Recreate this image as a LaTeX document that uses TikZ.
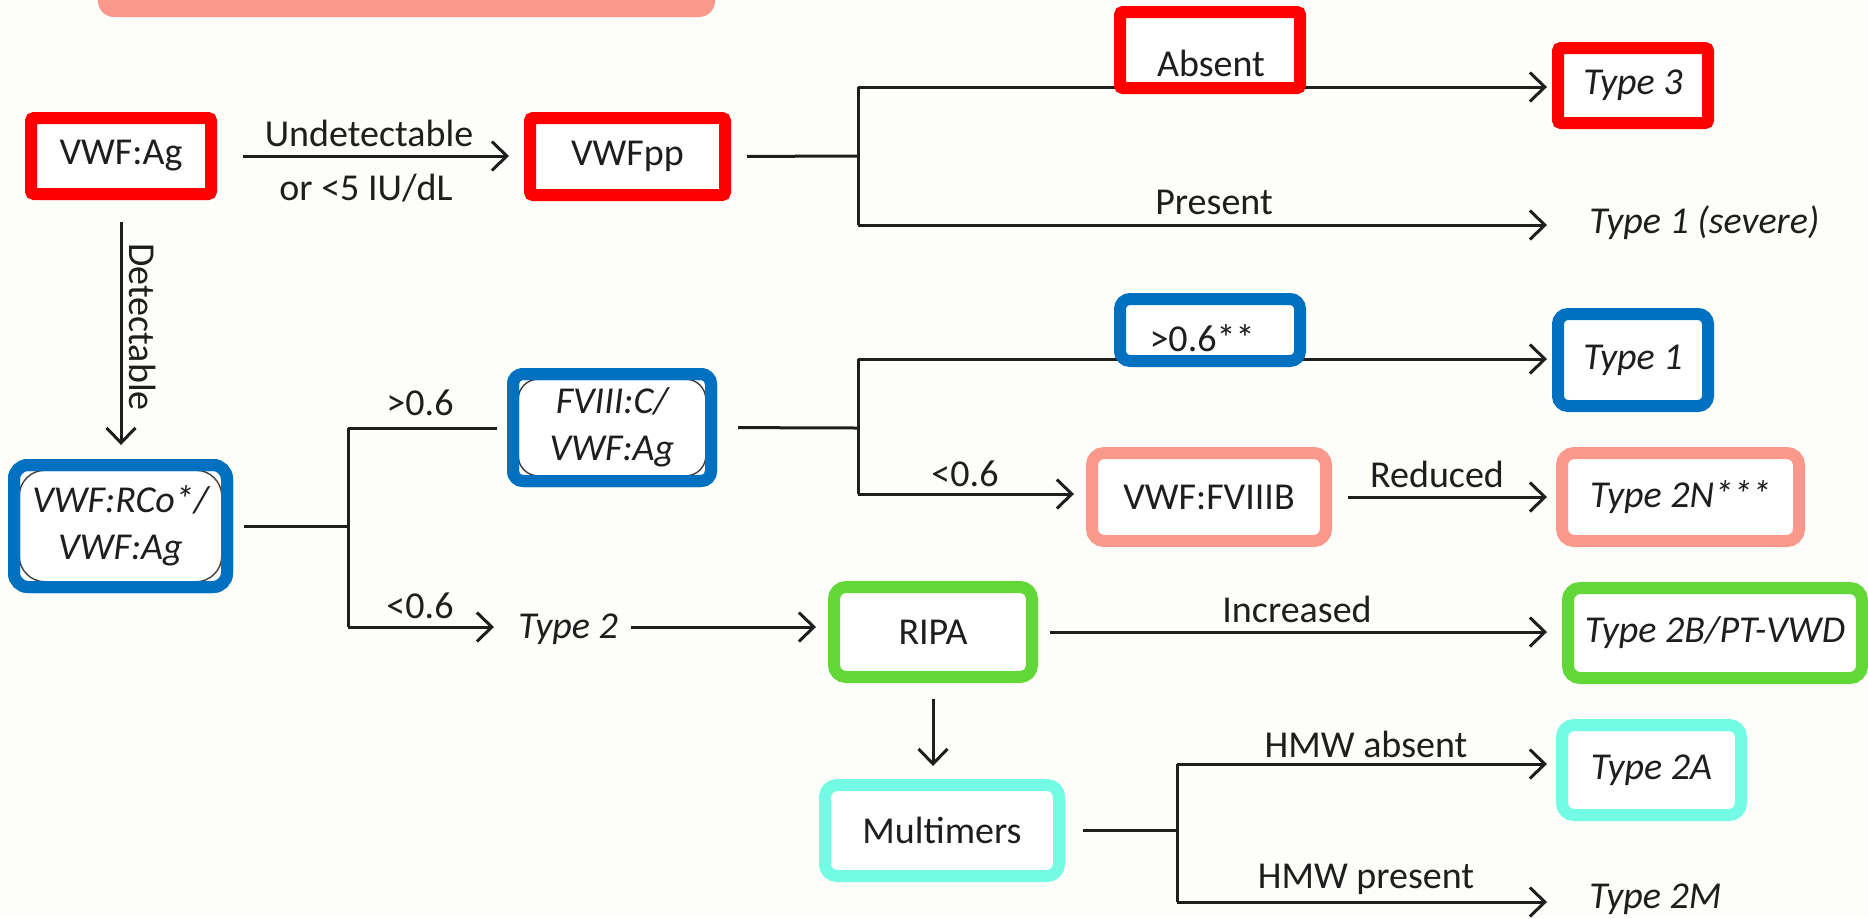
\documentclass[tikz,border=0pt]{standalone}
\usepackage{fontspec}
\setmainfont{Carlito}
\usetikzlibrary{arrows.meta}
\definecolor{cred}{HTML}{FF0000}
\definecolor{cblue}{HTML}{0070C0}
\definecolor{csal}{HTML}{FA988C}
\definecolor{cgreen}{HTML}{62D838}
\definecolor{ccyan}{HTML}{74FBE6}
\definecolor{ink}{HTML}{1E1E1E}
\definecolor{bg}{HTML}{FDFDFA}
\tikzset{
  txt/.style={text=ink, font=\fontsize{19pt}{23pt}\selectfont, inner sep=0pt},
  itx/.style={txt, font=\fontsize{19pt}{23pt}\selectfont\itshape},
  box/.style={draw, line width=6pt, fill=white, outer sep=0pt, inner sep=0pt, align=center, text=ink, font=\fontsize{19pt}{23pt}\selectfont},
  ibox/.style={box, font=\fontsize{19pt}{23.5pt}\selectfont\itshape},
  redbox/.style={draw=cred, rounded corners=1.5pt},
  bluebox/.style={draw=cblue, rounded corners=5pt},
  salbox/.style={draw=csal, rounded corners=6pt},
  grnbox/.style={draw=cgreen, rounded corners=6pt},
  cyabox/.style={draw=ccyan, rounded corners=6pt},
  ln/.style={draw=ink, line width=1.5pt},
  arr/.style={ln, -{Straight Barb[length=7.5pt,width=14.5pt]}},
  innerline/.style={draw=ink!85, line width=0.7pt, rounded corners=10pt},
  rim/.style={line width=6pt, draw=cblue},
}
\begin{document}
\begin{tikzpicture}[x=0.5pt,y=-0.5pt]
\useasboundingbox (0,0) rectangle (1868,918);
\fill[bg] (0,0) rectangle (1868,918);
% top bar
\fill[csal, rounded corners=8pt] (98,-30) rectangle (715,17);

% boxes
\node[box, redbox, minimum width=90pt, minimum height=38pt] (agbox) at (121,156) {VWF:Ag};
\node[box, redbox, minimum width=97.5pt, minimum height=38.5pt] (ppbox) at (627.5,156.5) {VWFpp};
\node[ibox, redbox, minimum width=75pt, minimum height=37.5pt] (type3) at (1633,85.5) {Type 3};
\node[ibox, bluebox, minimum width=99pt, minimum height=53.5pt] (fviii) at (612,427.5) {FVIII:C/\\VWF:Ag};
\node[ibox, bluebox, minimum width=75pt, minimum height=46pt] (type1) at (1633,360) {Type 1};
\node[ibox, bluebox, rounded corners=7pt, minimum width=106.5pt, minimum height=61pt] (rco) at (120.5,526) {VWF:RCo*/\\VWF:Ag};
\node[box, salbox, minimum width=117pt, minimum height=44pt] (fviiib) at (1209,497) {VWF:FVIIIB};
\node[ibox, salbox, minimum width=118.5pt, minimum height=44pt] (type2n) at (1680.5,497) {Type 2N***};
\node[box, grnbox, minimum width=99pt, minimum height=45pt] (ripa) at (933,632) {RIPA};
\node[ibox, grnbox, minimum width=147pt, minimum height=45pt] (type2b) at (1715,633) {Type 2B/PT-VWD};
\node[box, cyabox, minimum width=117pt, minimum height=45.5pt] (mult) at (942,830.5) {Multimers};
\node[ibox, cyabox, minimum width=89.5pt, minimum height=45pt] (type2a) at (1651.5,770) {Type 2A};

% corners of the original rounded boxes, showing inside the blue rims
\draw[innerline] ([shift={(2.6pt,-2.6pt)}]fviii.north west) rectangle ([shift={(-2.6pt,2.6pt)}]fviii.south east);
\draw[rim, rounded corners=5pt] (fviii.north west) rectangle (fviii.south east);
\draw[innerline, rounded corners=13pt] ([shift={(2.6pt,-2.6pt)}]rco.north west) rectangle ([shift={(-2.6pt,2.6pt)}]rco.south east);
\draw[rim, rounded corners=7pt] (rco.north west) rectangle (rco.south east);

% plain text outcomes
\node[itx, anchor=west] (t1s) at (1589,223) {Type 1 (severe)};
\node[itx, anchor=west] (type2) at (518,629) {Type 2};
\node[itx, anchor=west] (t2m) at (1589,899) {Type 2M};

% junction coordinates
\coordinate (j1) at (858,156);
\coordinate (j1a) at (858,87);
\coordinate (j1b) at (858,225);
\coordinate (j2) at (348,526);
\coordinate (j2a) at (348,428);
\coordinate (j2b) at (348,627);
\coordinate (j3) at (858,428);
\coordinate (j3a) at (858,359);
\coordinate (j3b) at (858,494);
\coordinate (j4) at (1177,830.5);
\coordinate (j4a) at (1177,764);
\coordinate (j4b) at (1177,902);

% connectors
\draw[arr, shorten <=16pt, shorten >=10.5pt] (agbox.east) -- (agbox.east -| ppbox.west);
\draw[ln, shorten <=11pt] (ppbox.east) -- (j1);
\draw[ln] (j1a) -- (j1b);
\draw[arr, shorten >=5.5pt] (j1a) -- (j1a -| type3.west);
\draw[arr, shorten >=21pt] (j1b) -- (j1b -| t1s.west);

\draw[arr, shorten <=14pt, shorten >=10pt] (agbox.south) -- (agbox.south |- rco.north);

\draw[ln, shorten <=8.5pt] (rco.east) -- (j2);
\draw[ln] (j2a) -- (j2b);
\draw[ln, shorten >=8pt] (j2a) -- (j2a -| fviii.west);
\draw[arr, shorten >=12pt] (j2b) -- (j2b -| type2.west);
\draw[arr, shorten <=6.5pt, shorten >=9pt] (j2b -| type2.east) -- (j2b -| ripa.west);

\draw[ln, shorten <=13.5pt] (fviii.east) -- (j3);
\draw[ln] (j3a) -- (j3b);
\draw[arr, shorten >=5.5pt] (j3a) -- (j3a -| type1.west);
\draw[arr, shorten >=9pt] (j3b) -- (j3b -| fviiib.west);
\draw[arr, shorten <=11pt, shorten >=7.5pt] (fviiib.east) -- (fviiib.east -| type2n.west);

\draw[arr, shorten <=9pt, shorten >=10.5pt] (ripa.east) -- (ripa.east -| type2b.west);
\draw[arr, shorten <=11pt, shorten >=9.5pt] (ripa.south) -- (ripa.south |- mult.north);

\draw[ln, shorten <=12pt] (mult.east) -- (j4);
\draw[ln] (j4a) -- (j4b);
\draw[arr, shorten >=7.5pt] (j4a) -- (j4a -| type2a.west);
\draw[arr, shorten >=21pt] (j4b) -- (j4b -| t2m.west);

% annotation boxes over the branch labels
\node[box, redbox, minimum width=90pt, minimum height=38pt] (absentbox) at (1210,50) {};
\node[box, bluebox, minimum width=90pt, minimum height=31pt] (gtbox) at (1210,330) {};

% labels
\node[txt] (lund) at (369,133) {Undetectable};
\node[txt] (llt5) at (366,188) {or <5 IU/dL};
\node[txt, rotate=-90] (ldet) at (143,327) {Detectable};
\node[txt] (labs) at (1211,63) {Absent};
\node[txt] (lpres) at (1214,202) {Present};
\node[txt] (lgt06a) at (420,403) {>0.6};
\node[txt] (llt06a) at (420,606) {<0.6};
\node[txt] (lgt06b) at (1202,338) {>0.6**};
\node[txt] (llt06b) at (965,474) {<0.6};
\node[txt] (lred) at (1437,474) {Reduced};
\node[txt] (linc) at (1297,609) {Increased};
\node[txt] (lhma) at (1366,744) {HMW absent};
\node[txt] (lhmp) at (1366,879) {HMW present};
\end{tikzpicture}
\end{document}
